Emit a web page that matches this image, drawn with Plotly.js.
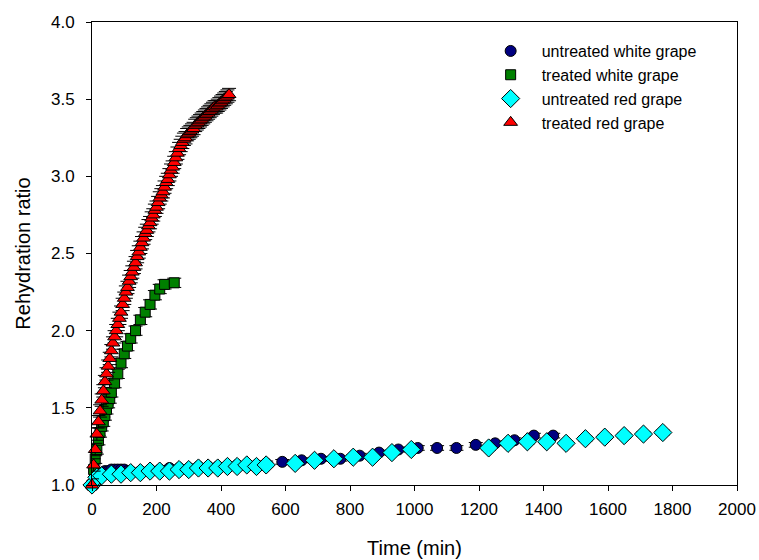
<!DOCTYPE html>
<html>
<head>
<meta charset="utf-8">
<script src="https://cdn.plot.ly/plotly-3.0.1.min.js"></script>
<style>html,body{margin:0;padding:0;background:#fff;}#chart{width:759px;height:560px;}</style>
</head>
<body>
<div id="chart"></div>
<script>
// ---- data ----
const seriesNames = ["untreated white grape", "treated white grape", "untreated red grape", "treated red grape"];

const uwTime = [0,10,20,30,40,50,60,70,80,90,100,110,120,150,180,210,240,270,300,330,360,390,420,450,480,510,540,590,650,710,770,830,890,950,1010,1070,1130,1190,1250,1310,1370,1430];
const uwRatio = [1.00,1.06,1.08,1.08,1.09,1.09,1.10,1.10,1.10,1.10,1.10,1.09,1.09,1.09,1.10,1.10,1.11,1.11,1.11,1.12,1.12,1.12,1.12,1.13,1.13,1.13,1.14,1.15,1.16,1.17,1.17,1.19,1.21,1.23,1.24,1.24,1.24,1.26,1.27,1.29,1.32,1.32];
const uwErr = 0.015;

const twTime = [0,5,10,15,20,25,30,35,40,45,50,55,60,70,80,90,100,110,120,135,150,165,180,195,210,225,255];
const twRatio = [1.00,1.10,1.17,1.23,1.29,1.34,1.38,1.41,1.45,1.49,1.53,1.56,1.60,1.66,1.72,1.79,1.85,1.90,1.95,2.00,2.07,2.12,2.17,2.23,2.27,2.30,2.31];
const twErr = 0.03;

const urTime = [0,15,30,60,90,120,150,180,210,240,270,300,330,360,390,420,450,480,510,540,630,690,750,810,870,930,990,1230,1290,1350,1410,1470,1530,1590,1650,1710,1770];
const urRatio = [1.00,1.05,1.06,1.07,1.07,1.08,1.08,1.09,1.09,1.09,1.10,1.10,1.11,1.11,1.11,1.12,1.12,1.13,1.12,1.13,1.14,1.16,1.17,1.18,1.18,1.21,1.23,1.24,1.27,1.28,1.28,1.27,1.30,1.31,1.32,1.33,1.34];
const urErr = 0.015;

const trTime = [0,5,10,15,20,25,30,35,40,45,50,55,60,65,70,75,80,85,90,95,100,105,110,115,120,125,130,135,140,145,150,155,160,165,170,175,180,185,190,195,200,205,210,215,220,225,230,235,240,245,250,255,260,265,270,275,280,285,290,295,300,305,310,315,320,325,330,335,340,345,350,355,360,365,370,375,380,385,390,395,400,405,410,415,420,425];
const trRatio = [1.00,1.13,1.23,1.33,1.41,1.48,1.55,1.61,1.67,1.72,1.77,1.82,1.87,1.92,1.96,2.00,2.04,2.08,2.12,2.17,2.21,2.25,2.28,2.32,2.35,2.38,2.41,2.44,2.48,2.51,2.54,2.57,2.60,2.63,2.65,2.68,2.70,2.73,2.75,2.78,2.80,2.83,2.86,2.88,2.90,2.93,2.96,2.98,3.01,3.04,3.06,3.09,3.12,3.15,3.18,3.20,3.22,3.24,3.25,3.27,3.28,3.29,3.30,3.31,3.33,3.34,3.35,3.36,3.37,3.38,3.39,3.40,3.41,3.42,3.43,3.44,3.45,3.45,3.46,3.47,3.48,3.49,3.50,3.51,3.52,3.53];
const trErr = 0.04;

const xTicks = [0,200,400,600,800,1000,1200,1400,1600,1800,2000];
const yTicks = [1.0,1.5,2.0,2.5,3.0,3.5,4.0];

// ---- traces ----
function mk(name, x, y, err, symbol, color, size) {
  return {
    type: "scatter", mode: "markers", name: name, x: x, y: y,
    cliponaxis: false,
    marker: {symbol: symbol, color: color, size: size, line: {color: "#000", width: 1}},
    error_y: {type: "constant", value: err, color: "#000", thickness: 1, width: 7}
  };
}
const data = [
  mk(seriesNames[0], uwTime, uwRatio, uwErr, "circle", "#000080", 11),
  mk(seriesNames[1], twTime, twRatio, twErr, "square", "#008000", 10),
  mk(seriesNames[2], urTime, urRatio, urErr, "diamond", "#00FFFF", 14),
  mk(seriesNames[3], trTime, trRatio, trErr, "triangle-up", "#FF0000", 12)
];

const FONT = "Liberation Sans, Arial, sans-serif";
const axisCommon = {
  showline: true, linecolor: "#000", linewidth: 1, mirror: true,
  ticks: "outside", ticklen: 5, tickcolor: "#000", tickwidth: 1,
  showgrid: false, zeroline: false,
  tickfont: {family: FONT, size: 17, color: "#000"}
};

const layout = {
  width: 759, height: 560,
  margin: {l: 92, r: 22, t: 22, b: 75},
  paper_bgcolor: "#fff", plot_bgcolor: "#fff",
  font: {family: FONT, color: "#000"},
  showlegend: true,
  legend: {x: 0.601, y: 0.974, xanchor: "left", yanchor: "top", bgcolor: "rgba(0,0,0,0)",
           font: {size: 16, color: "#000"}, tracegroupgap: 0, itemwidth: 52},
  xaxis: Object.assign({}, axisCommon, {
    range: [0, 2000], tickvals: xTicks, ticktext: xTicks.map(String), ticklabelstandoff: 4,
    title: {text: "Time (min)", font: {size: 20, color: "#000"}, standoff: 22}
  }),
  yaxis: Object.assign({}, axisCommon, {
    range: [1.0, 4.0], tickvals: yTicks, ticktext: yTicks.map(v => v.toFixed(1)), ticklabelstandoff: 8,
    title: {text: "Rehydration ratio", font: {size: 20, color: "#000"}, standoff: 14}
  })
};

Plotly.newPlot("chart", data, layout, {displayModeBar: false, staticPlot: true});
</script>
</body>
</html>
